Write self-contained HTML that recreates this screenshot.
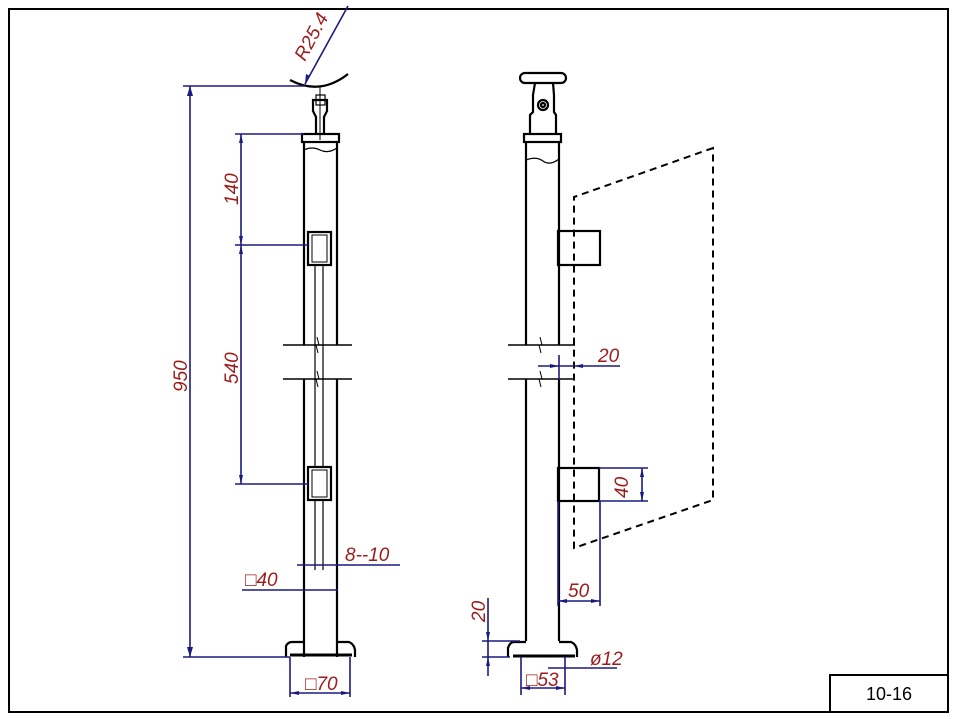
<!DOCTYPE html>
<html><head><meta charset="utf-8"><style>
html,body{margin:0;padding:0;background:#fff}
svg{display:block}
text{font-family:"Liberation Sans",sans-serif;font-style:italic;fill:#9b1b1b;font-size:19px}
</style></head><body>
<svg width="957" height="719" viewBox="0 0 957 719" xmlns="http://www.w3.org/2000/svg">
<rect x="9" y="9" width="939" height="703" fill="none" stroke="#000" stroke-width="2"/>
<rect x="830" y="675" width="118" height="37" fill="none" stroke="#000" stroke-width="2"/>
<text x="889" y="700" text-anchor="middle" style="font-style:normal;fill:#000;font-size:18px">10-16</text>

<g stroke="#000" fill="none" stroke-width="2.2">
<line x1="304" y1="134" x2="304" y2="345"/><line x1="337" y1="134" x2="337" y2="345"/>
<line x1="304" y1="379" x2="304" y2="657"/><line x1="337" y1="379" x2="337" y2="657"/>
<rect x="302" y="134" width="37" height="8" fill="#fff"/>
<path d="M304 150 Q312 146 320 150 T337 148" stroke-width="1.2"/>
<line x1="283" y1="345" x2="352" y2="345" stroke-width="1.6"/>
<line x1="283" y1="379" x2="352" y2="379" stroke-width="1.6"/>
<path d="M317 337 l2 8 l-3 0 l2 8" stroke-width="1"/>
<path d="M317 371 l2 8 l-3 0 l2 8" stroke-width="1"/>
<rect x="308" y="232" width="23" height="33"/><rect x="312" y="235" width="15" height="27" stroke-width="1"/>
<rect x="308" y="467" width="23" height="33"/><rect x="312" y="470" width="15" height="27" stroke-width="1"/>
<g stroke-width="1.2"><line x1="315" y1="265" x2="315" y2="467"/><line x1="323" y1="265" x2="323" y2="467"/>
<line x1="315" y1="500" x2="315" y2="570"/><line x1="323" y1="500" x2="323" y2="570"/></g>
<path d="M286 657 L286 646 Q288 642 292 642 L304 642 M337 642 L349 642 Q354 644 355 650 L355 657"/>
<line x1="290" y1="655" x2="352" y2="655" stroke-width="3"/>
<path d="M316 134 L316 117 L313 111 L313 100 L327 100 L327 111 L324 117 L324 134"/>
<rect x="316" y="95" width="9" height="10" stroke-width="1.2"/>
<line x1="320" y1="86" x2="320" y2="140" stroke-width="1"/>
<path d="M290 80 Q320 96 348 74" stroke-width="2.2"/>
<line x1="526" y1="134" x2="526" y2="345"/><line x1="559" y1="134" x2="559" y2="345"/>
<line x1="526" y1="379" x2="526" y2="641"/><line x1="559" y1="379" x2="559" y2="641"/>
<rect x="524" y="134" width="37" height="8" fill="#fff"/>
<path d="M526 160 Q536 156 543 161 T559 159" stroke-width="1.2"/>
<line x1="508" y1="345" x2="575" y2="345" stroke-width="1.6"/>
<line x1="508" y1="379" x2="575" y2="379" stroke-width="1.6"/>
<path d="M540 337 l2 8 l-3 0 l2 8" stroke-width="1"/>
<path d="M540 371 l2 8 l-3 0 l2 8" stroke-width="1"/>
<rect x="558" y="231" width="42" height="34"/>
<rect x="558" y="468" width="41" height="33"/>
<path d="M508 657 L508 648 Q510 642 514 642 L526 642 M559 642 L571 642 Q576 644 577 650 L577 657"/>
<line x1="513" y1="656" x2="575" y2="656" stroke-width="3"/>
<rect x="520" y="73" width="46" height="10" rx="5"/>
<path d="M535 83 L533 95 L533 112 L530 115 L530 134 M553 83 L554 95 L554 112 L556 115 L556 134"/>
<circle cx="543" cy="105" r="5"/><circle cx="543" cy="105" r="2"/>
</g>
<g stroke="#000" fill="none" stroke-width="2" stroke-dasharray="7,5">
<path d="M713 148 L574 197 L574 548 L713 500 Z"/>
</g>
<g stroke="#1a1a80" fill="none" stroke-width="1.6">
<line x1="183" y1="86" x2="305" y2="86"/><line x1="183" y1="657" x2="290" y2="657"/>
<line x1="190" y1="86" x2="190" y2="657"/>
<line x1="235" y1="134" x2="304" y2="134"/><line x1="235" y1="245" x2="308" y2="245"/><line x1="235" y1="484" x2="308" y2="484"/>
<line x1="241" y1="134" x2="241" y2="484"/>
<line x1="297" y1="565" x2="400" y2="565"/>
<line x1="242" y1="590" x2="338" y2="590"/>
<line x1="290" y1="657" x2="290" y2="697"/><line x1="350" y1="657" x2="350" y2="697"/>
<line x1="290" y1="693" x2="350" y2="693"/>
<line x1="305" y1="84" x2="348" y2="6"/>
<line x1="538" y1="366" x2="620" y2="366"/><line x1="559" y1="355" x2="559" y2="380"/>
<line x1="642" y1="468" x2="642" y2="501"/><line x1="599" y1="468" x2="648" y2="468"/><line x1="599" y1="501" x2="648" y2="501"/>
<line x1="558" y1="501" x2="558" y2="606"/><line x1="600" y1="501" x2="600" y2="606"/>
<line x1="558" y1="601" x2="600" y2="601"/>
<line x1="488" y1="598" x2="488" y2="676"/><line x1="482" y1="641" x2="520" y2="641"/><line x1="482" y1="657" x2="510" y2="657"/>
<line x1="521" y1="657" x2="521" y2="695"/><line x1="565" y1="657" x2="565" y2="695"/>
<line x1="521" y1="688" x2="565" y2="688"/>
<line x1="548" y1="668" x2="617" y2="668"/>
</g>
<g fill="#1a1a80">
<path d="M190 86 l-3 10 h6z"/><path d="M190 657 l-3 -10 h6z"/>
<path d="M241 134 l-2 9 h4z"/><path d="M241 245 l-2 -9 h4z"/><path d="M241 245 l-2 9 h4z"/><path d="M241 484 l-2 -9 h4z"/>
<path d="M290 693 l9 -2 v4z"/><path d="M350 693 l-9 -2 v4z"/>
<path d="M558 601 l9 -2 v4z"/><path d="M600 601 l-9 -2 v4z"/>
<path d="M642 468 l-2 9 h4z"/><path d="M642 501 l-2 -9 h4z"/>
<path d="M559 366 l-9 -2 v4z"/><path d="M574 366 l9 -2 v4z"/>
<path d="M521 688 l9 -2 v4z"/><path d="M565 688 l-9 -2 v4z"/>
<path d="M488 641 l-2 -9 h4z"/><path d="M488 657 l-2 9 h4z"/>
<path d="M305 84 l1 -10 l4 2z"/>
</g>
<text x="0" y="0" transform="translate(187,392) rotate(-90)">950</text>
<text x="0" y="0" transform="translate(238,205) rotate(-90)">140</text>
<text x="0" y="0" transform="translate(238,384) rotate(-90)">540</text>
<text x="0" y="0" transform="translate(305,62) rotate(-62)">R25.4</text>
<text x="345" y="561">8--10</text>
<text x="245" y="586">□40</text>
<text x="305" y="690">□70</text>
<text x="598" y="362">20</text>
<text x="0" y="0" transform="translate(628,498) rotate(-90)">40</text>
<text x="568" y="597">50</text>
<text x="0" y="0" transform="translate(485,622) rotate(-90)">20</text>
<text x="526" y="686">□53</text>
<text x="590" y="665">ø12</text>
</svg>
</body></html>
